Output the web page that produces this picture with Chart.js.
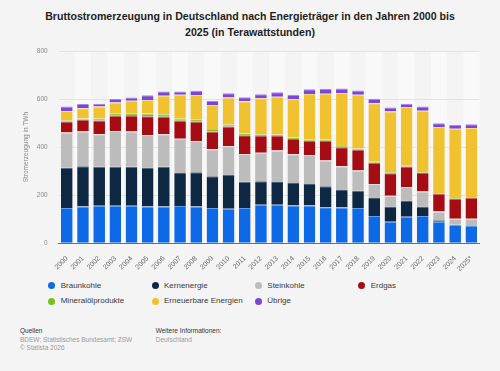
<!DOCTYPE html>
<html><head><meta charset="utf-8">
<script src="https://cdn.jsdelivr.net/npm/chart.js@4/dist/chart.umd.min.js"></script>
<style>
html,body{margin:0;padding:0;background:#f4f4f4;width:500px;height:371px;overflow:hidden;font-family:"Liberation Sans",Arial,sans-serif;}
#title{position:absolute;left:0;top:8px;width:500px;text-align:center;font-weight:bold;font-size:10.6px;line-height:16.3px;color:#1e1e1e;}
#wrap{position:absolute;left:0;top:0;width:500px;height:275px;}
.lg{position:absolute;font-size:8px;color:#3a3a3a;white-space:nowrap;line-height:10px;}
.dot{position:absolute;width:7px;height:7px;border-radius:50%;}
.ft{position:absolute;font-size:6.5px;line-height:8.3px;white-space:nowrap;}
</style></head>
<body>
<div id="title">Bruttostromerzeugung in Deutschland nach Energieträger in den Jahren 2000 bis<br>2025 (in Terawattstunden)</div>
<div id="wrap"><canvas id="c" width="500" height="275"></canvas></div>
<div id="legend"></div>
<div class="ft" style="left:20px;top:327px;color:#333;">Quellen</div>
<div class="ft" style="left:20px;top:335.5px;color:#999;">BDEW; Statistisches Bundesamt; ZSW<br>© Statista 2026</div>
<div class="ft" style="left:155.7px;top:327px;color:#333;">Weitere Informationen:</div>
<div class="ft" style="left:155.7px;top:335.5px;color:#999;">Deutschland</div>
<script>
const years = ['2000','2001','2002','2003','2004','2005','2006','2007','2008','2009','2010','2011','2012','2013','2014','2015','2016','2017','2018','2019','2020','2021','2022','2023','2024','2025*'];
const braunkohle  = [146.6,153,156,156,156,153,153,155,153,147,144,147,160,160,157,157,150,149,147,114,90,110,114,90,77,72];
const kernenergie = [167.5,168,162,162,162,162.5,165,137,142.6,132.4,142,109,98,95,94,90,87,73,72,74,63,68,39,6,0,0];
const steinkohle  = [146.5,144,135.5,149,147,135,135.5,142.5,130,111.7,118,115,119,131,119,120,107,99,84,59,45,56,63,36,25,30];
const erdgas      = [46,49,57,64,65,78,73,75,81.5,74,82,79,69,60,64,60,83,79,86,88,93,85,76,74,83,88];
const mineraloel  = [5,5,8.5,10,11,11,10.5,9,9,10,8.5,7,7.5,7,6,6,5,5,5,4,4.5,4,4,3,3,3];
const erneuerbare = [39,43,50.5,45,52,57,77,99,101,100.5,112,134,150,157,160,188,190,220,224,244,253,244,255,275,289,287];
const uebrige     = [18.5,17,10,14,14,19,18,14,18,16.5,18,17,17,18,18,20,20,19,18,18,16,14,18.5,15.5,15.5,15];
const yTicks = [0,200,400,600,800];

const series = [
  {label:'Braunkohle', data:braunkohle, color:'#0e69e6', edge:'#5a9af0'},
  {label:'Kernenergie', data:kernenergie, color:'#0e2743', edge:'#4a5d74'},
  {label:'Steinkohle', data:steinkohle, color:'#bcbcbc', edge:'#dedede'},
  {label:'Erdgas', data:erdgas, color:'#a50c14', edge:'#c65a5f'},
  {label:'Mineralölprodukte', data:mineraloel, color:'#78c11c', edge:'#a8d96a'},
  {label:'Erneuerbare Energien', data:erneuerbare, color:'#f1c22f', edge:'#f6d978'},
  {label:'Übrige', data:uebrige, color:'#7b45da', edge:'#a787e6'}
];

const stripes = {
  id:'stripes',
  beforeDraw(chart){
    const {ctx, chartArea, scales:{x}} = chart;
    const w = x.getPixelForValue(1) - x.getPixelForValue(0);
    ctx.save();
    ctx.fillStyle = '#f9f9f9';
    for(let i=1;i<years.length;i+=2){
      const cx = x.getPixelForValue(i);
      ctx.fillRect(cx - w/2, chartArea.top, w, chartArea.bottom - chartArea.top);
    }
    ctx.restore();
  }
};

new Chart(document.getElementById('c'), {
  type:'bar',
  data:{
    labels:years,
    datasets:series.map(s=>({label:s.label,data:s.data,backgroundColor:s.color,borderColor:s.edge,
      borderWidth:{top:1,left:0,right:0,bottom:0},borderSkipped:'start',
      barPercentage:0.9,categoryPercentage:0.8}))
  },
  options:{
    responsive:false, animation:false, devicePixelRatio:1,
    layout:{padding:{top:51,right:20.6,left:0,bottom:0}},
    plugins:{legend:{display:false},tooltip:{enabled:false},title:{display:false}},
    scales:{
      x:{stacked:true,offset:true,
        grid:{display:false},
        border:{display:true,color:'#6e6e6e',width:1},
        ticks:{autoSkip:false,maxRotation:45,minRotation:45,padding:3,color:'#666',font:{family:'Liberation Sans',size:7}},
        afterFit(s){s.height=31.7;}
      },
      y:{stacked:true,min:0,max:800,
        afterBuildTicks(s){s.ticks=yTicks.map(v=>({value:v}));},
        grid:{color:'#e3e3e3',drawTicks:false},
        border:{display:false},
        ticks:{padding:11,color:'#888',font:{family:'Liberation Sans',size:6.5}},
        title:{display:true,text:'Stromerzeugung in TWh',color:'#888',font:{family:'Liberation Sans',size:6.5},padding:{top:22,bottom:0}},
        afterFit(s){s.width=58.7;}
      }
    }
  },
  plugins:[stripes]
});

// HTML legend built from the series
const lg = document.getElementById('legend');
const colX = [51.7,155,258.3,361.7];
const rowY = [285.7,301];
series.forEach((s,i)=>{
  const r = i<4?0:1, c = i<4?i:i-4;
  const d = document.createElement('div'); d.className='dot';
  d.style.background=s.color; d.style.left=(colX[c]-3.5)+'px'; d.style.top=(rowY[r]-3.5)+'px';
  lg.appendChild(d);
  const t = document.createElement('div'); t.className='lg'; t.textContent=s.label;
  t.style.left=(colX[c]+9)+'px'; t.style.top=(rowY[r]-5)+'px';
  lg.appendChild(t);
});
</script>
</body></html>
